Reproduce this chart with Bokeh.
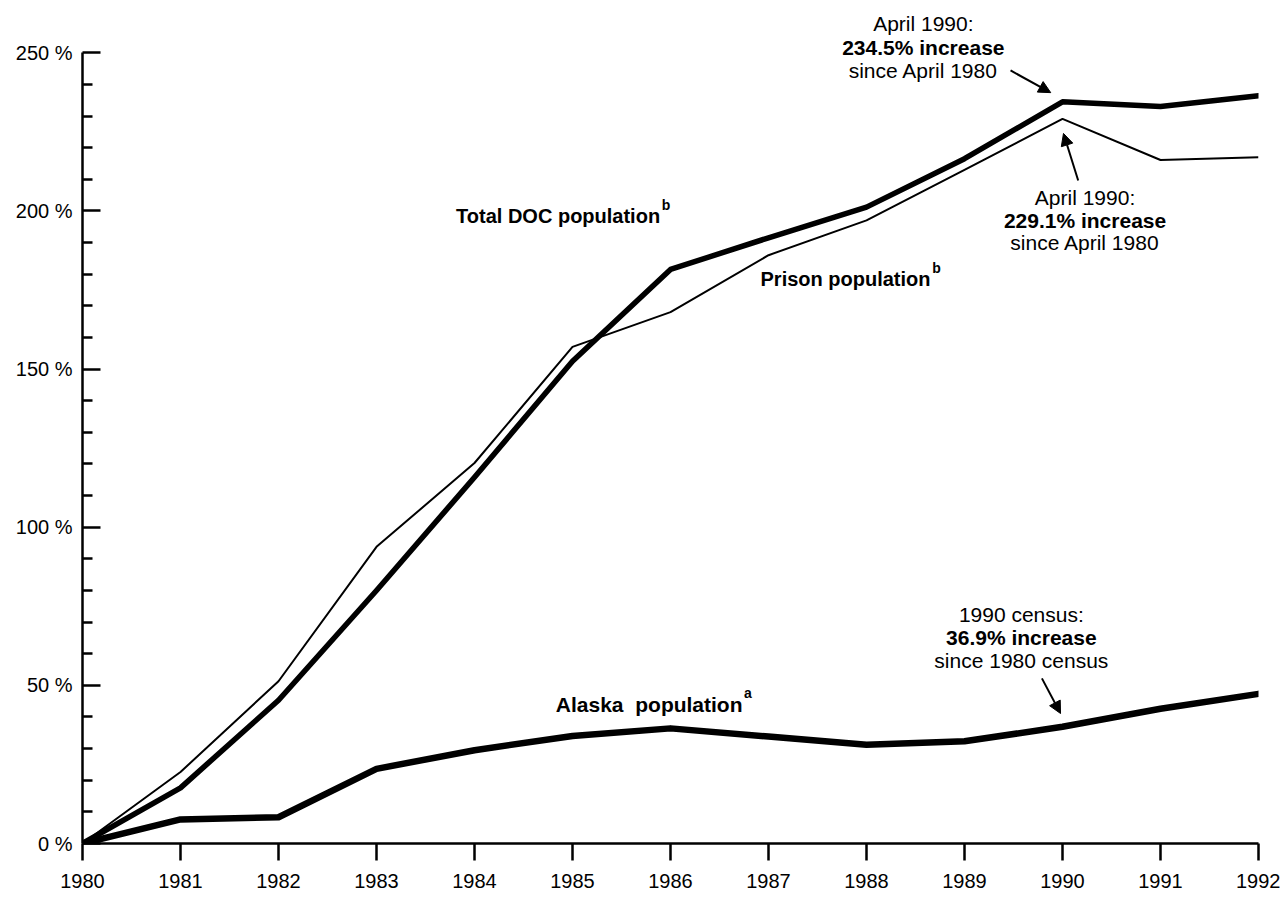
from bokeh.plotting import figure
from bokeh.models import Range1d, FixedTicker, Label, Arrow, NormalHead, ColumnDataSource
from bokeh.embed import file_html
from bokeh.resources import INLINE

# ---- data (percent increase since 1980) ----
years = [1980, 1981, 1982, 1983, 1984, 1985, 1986, 1987, 1988, 1989, 1990, 1991, 1992]
total_doc = [0, 17.6, 45.3, 80.0, 115.8, 152.5, 181.5, 191.5, 201.2, 216.5, 234.5, 233.0, 236.4]
prison = [0, 22.6, 51.3, 93.8, 120.3, 157.0, 168.0, 186.0, 197.0, 213.0, 229.1, 216.1, 217.0]
alaska = [0, 7.6, 8.3, 23.6, 29.5, 34.0, 36.4, 33.8, 31.2, 32.3, 36.9, 42.6, 47.3]

y_major = [0, 50, 100, 150, 200, 250]
y_minor = [v for v in range(10, 250, 10) if v % 50 != 0]
y_labels = ["0 %", "50 %", "100 %", "150 %", "200 %", "250 %"]
x_labels = [str(y) for y in years]

FONT = "Liberation Sans"

src = ColumnDataSource(dict(year=years, doc=total_doc, prison=prison, alaska=alaska))

p = figure(width=1280, height=898, output_backend="svg", toolbar_location=None,
           x_range=Range1d(1980, 1992), y_range=Range1d(0, 264),
           min_border_left=82, min_border_right=22, min_border_top=8, min_border_bottom=55)
p.outline_line_color = None
p.xgrid.visible = False
p.ygrid.visible = False
p.background_fill_color = "white"
p.border_fill_color = "white"

# lines
p.line("year", "prison", source=src, line_width=2, line_color="black", line_join="round")
p.line("year", "doc", source=src, line_width=5.5, line_color="black", line_join="round", line_cap="round")
p.line("year", "alaska", source=src, line_width=6.5, line_color="black", line_join="round", line_cap="round")

# y axis
ya = p.yaxis[0]
ya.ticker = FixedTicker(ticks=y_major, minor_ticks=y_minor)
ya.major_label_overrides = {v: s for v, s in zip(y_major, y_labels)}
ya.bounds = (0, 250)
ya.axis_line_width = 2.5
ya.major_tick_line_width = 2.5
ya.minor_tick_line_width = 2.5
ya.major_tick_in = 18
ya.major_tick_out = 0
ya.minor_tick_in = 10
ya.minor_tick_out = 0
ya.major_label_standoff = 10
ya.major_label_text_font = FONT
ya.major_label_text_font_size = "20px"
ya.major_label_text_color = "black"
ya.axis_line_color = "black"

# x axis
xa = p.xaxis[0]
xa.ticker = FixedTicker(ticks=years, minor_ticks=[])
xa.major_label_overrides = {y: s for y, s in zip(years, x_labels)}
xa.axis_line_width = 2.5
xa.major_tick_line_width = 2.5
xa.major_tick_in = 0
xa.major_tick_out = 17
xa.minor_tick_in = 0
xa.minor_tick_out = 0
xa.major_label_standoff = 13
xa.major_label_text_font = FONT
xa.major_label_text_font_size = "20px"
xa.major_label_text_color = "black"


def lab(x, y, text, bold=False, align="center", size="21px"):
    p.add_layout(Label(x=x, y=y, text=text, text_font=FONT, text_font_size=size,
                       text_font_style="bold" if bold else "normal",
                       text_align=align, text_baseline="middle", text_color="black"))


def arrow(x0, y0, x1, y1):
    p.add_layout(Arrow(end=NormalHead(size=12, fill_color="black", line_color="black", line_width=1),
                       x_start=x0, y_start=y0, x_end=x1, y_end=y1,
                       line_width=2, line_color="black"))


# series labels (text right-aligned at its end, superscript after it)
lab(1985.894, 198.5, "Total DOC population", bold=True, align="right", size="20px")
lab(1985.91, 201.9, "b", bold=True, align="left", size="14px")
lab(1988.653, 178.6, "Prison population", bold=True, align="right", size="20px")
lab(1988.67, 182.0, "b", bold=True, align="left", size="14px")
lab(1986.735, 43.9, "Alaska\u00a0 population", bold=True, align="right", size="21px")
lab(1986.75, 47.5, "a", bold=True, align="left", size="14px")

# annotation: total DOC
lab(1988.58, 259.2, "April 1990:")
lab(1988.58, 251.7, "234.5% increase", bold=True)
lab(1988.58, 244.4, "since April 1980")
arrow(1989.47, 244.4, 1989.88, 237.4)

# annotation: prison
lab(1990.23, 204.2, "April 1990:")
lab(1990.23, 197.0, "229.1% increase", bold=True)
lab(1990.23, 190.0, "since April 1980")
arrow(1990.16, 209.6, 1990.01, 224.5)

# annotation: Alaska census
lab(1989.58, 72.4, "1990 census:")
lab(1989.58, 65.1, "36.9% increase", bold=True)
lab(1989.58, 57.9, "since 1980 census")
arrow(1989.79, 52.2, 1989.98, 41.1)

open("out.html", "w").write(file_html(p, INLINE))
